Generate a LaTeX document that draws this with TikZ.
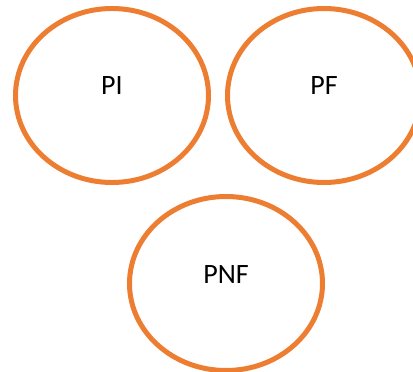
\documentclass[tikz,border=0pt]{standalone}
\usepackage{fontspec}
\setmainfont{Carlito}
\usetikzlibrary{shapes.geometric}
\definecolor{ringorange}{HTML}{ED7D31}
\tikzset{
  ring/.style={ellipse, draw=ringorange, line width=5pt, inner sep=0pt,
               minimum width=193pt, minimum height=174pt},
  tag/.style={anchor=base, inner sep=0pt, font=\fontsize{28}{31}\selectfont}
}
\begin{document}
\begin{tikzpicture}[x=1pt, y=-1pt]
  \useasboundingbox (0,0) rectangle (413,372);
  \node[ring] (pi)  at (112,95.5) {};
  \node[ring] (pf)  at (324,95.5) {};
  \node[ring] (pnf) at (226,283.5) {};
  \node[tag] (pilabel)  at (112,94) {PI};
  \node[tag] (pflabel)  at (324,94) {PF};
  \node[tag] (pnflabel) at (226,283) {PNF};
\end{tikzpicture}
\end{document}
